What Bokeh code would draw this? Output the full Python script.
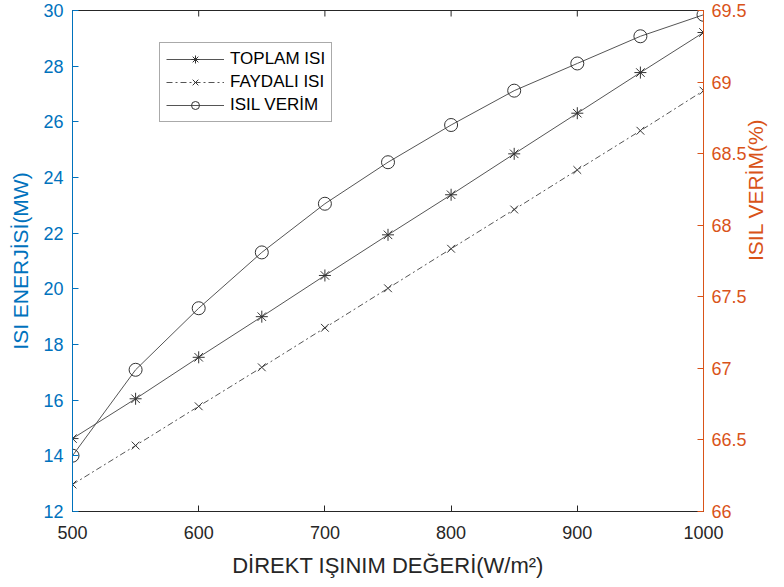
import math
from bokeh.plotting import figure
from bokeh.models import Range1d, LinearAxis, FixedTicker, Legend, LegendItem
from bokeh.embed import file_html
from bokeh.resources import INLINE

# ---- data ----
irradiance = [500, 550, 600, 650, 700, 750, 800, 850, 900, 950, 1000]
toplam_isi = [14.62, 16.05, 17.54, 19.00, 20.48, 21.94, 23.38, 24.85, 26.31, 27.77, 29.21]
faydali_isi = [12.97, 14.37, 15.78, 17.18, 18.60, 20.02, 21.44, 22.85, 24.27, 25.68, 27.12]
isil_verim = [66.39, 66.99, 67.42, 67.81, 68.15, 68.44, 68.70, 68.94, 69.13, 69.32, 69.47]

x_ticks = [500, 600, 700, 800, 900, 1000]
left_ticks = [12, 14, 16, 18, 20, 22, 24, 26, 28, 30]
right_ticks = [66, 66.5, 67, 67.5, 68, 68.5, 69, 69.5]
right_tick_labels = ["66", "66.5", "67", "67.5", "68", "68.5", "69", "69.5"]

series_names = ["TOPLAM ISI", "FAYDALI ISI", "ISIL VERİM"]
x_label = "DİREKT IŞINIM DEĞERİ(W/m²)"
left_label = "ISI ENERJİSİ(MW)"
right_label = "ISIL VERİM(%)"

FONT = "Liberation Sans"
BLUE = "#0072BD"
ORANGE = "#D95319"
DARK = "#262626"
LINE = "#555555"
MARK = "#333333"

p = figure(width=784, height=587,
           x_range=Range1d(x_ticks[0], x_ticks[-1]), y_range=Range1d(left_ticks[0], left_ticks[-1]),
           output_backend="svg", toolbar_location=None, x_axis_location=None, y_axis_location=None,
           min_border_left=72, min_border_right=81, min_border_top=10, min_border_bottom=76)
p.outline_line_color = DARK
p.outline_line_width = 1
p.xgrid.visible = False
p.ygrid.visible = False
p.background_fill_color = "white"
p.border_fill_color = "white"
p.extra_y_ranges = {"right": Range1d(right_ticks[0], right_ticks[-1])}

def style_axis(ax, color, label_color):
    ax.axis_line_color = color
    ax.major_tick_line_color = color
    ax.major_tick_in = 6
    ax.major_tick_out = 0
    ax.minor_tick_line_color = None
    ax.major_label_text_font = FONT
    ax.major_label_text_font_size = "18px"
    ax.major_label_text_color = label_color
    ax.axis_label_text_font = FONT
    ax.axis_label_text_font_size = "21px"
    ax.axis_label_text_font_style = "normal"
    ax.axis_label_text_color = label_color

bottom = LinearAxis(ticker=FixedTicker(ticks=x_ticks), axis_label=x_label)
style_axis(bottom, DARK, DARK)
bottom.axis_label_text_font_size = "22px"
bottom.major_label_standoff = 14
bottom.axis_label_standoff = 11
p.add_layout(bottom, "below")

left = LinearAxis(ticker=FixedTicker(ticks=left_ticks), axis_label=left_label)
style_axis(left, BLUE, BLUE)
left.major_label_standoff = 9
left.axis_label_standoff = 8
p.add_layout(left, "left")

right = LinearAxis(y_range_name="right", ticker=FixedTicker(ticks=right_ticks), axis_label=right_label)
style_axis(right, ORANGE, ORANGE)
right.major_label_overrides = {t: s for t, s in zip(right_ticks, right_tick_labels)}
right.major_label_standoff = 8
right.axis_label_standoff = 6
try:
    right.axis_label_orientation = math.pi / 2
except Exception:
    pass
p.add_layout(right, "right")

# inward tick marks on the top edge of the box
p.ray(x=x_ticks, y=[left_ticks[-1]] * len(x_ticks), length=6, length_units="screen",
      angle=-90, angle_units="deg", line_color=DARK, line_width=1)

l1 = p.line(irradiance, toplam_isi, line_color=LINE, line_width=1)
s1 = p.scatter(irradiance, toplam_isi, marker="asterisk", size=12, line_color=MARK, line_width=1)
l2 = p.line(irradiance, faydali_isi, line_color=LINE, line_width=1, line_dash="6 3 2 3")
s2 = p.scatter(irradiance, faydali_isi, marker="x", size=11, line_color=MARK, line_width=1)
l3 = p.line(irradiance, isil_verim, line_color=LINE, line_width=1, y_range_name="right")
s3 = p.scatter(irradiance, isil_verim, marker="circle", size=13, line_color=MARK, fill_color=None,
               line_width=1, y_range_name="right")

legend = Legend(items=[LegendItem(label=series_names[0], renderers=[l1, s1]),
                       LegendItem(label=series_names[1], renderers=[l2, s2]),
                       LegendItem(label=series_names[2], renderers=[l3, s3])],
                location=(87, 389))
legend.label_text_font = FONT
legend.label_text_font_size = "17px"
legend.label_text_color = "black"
legend.glyph_width = 58
legend.glyph_height = 20
legend.label_height = 20
legend.label_standoff = 6
legend.spacing = 3
legend.padding = 6
legend.margin = 0
legend.border_line_color = "#555555"
legend.border_line_width = 1
legend.background_fill_color = "white"
legend.background_fill_alpha = 1
p.add_layout(legend, "center")

open("out.html", "w").write(file_html(p, INLINE))
